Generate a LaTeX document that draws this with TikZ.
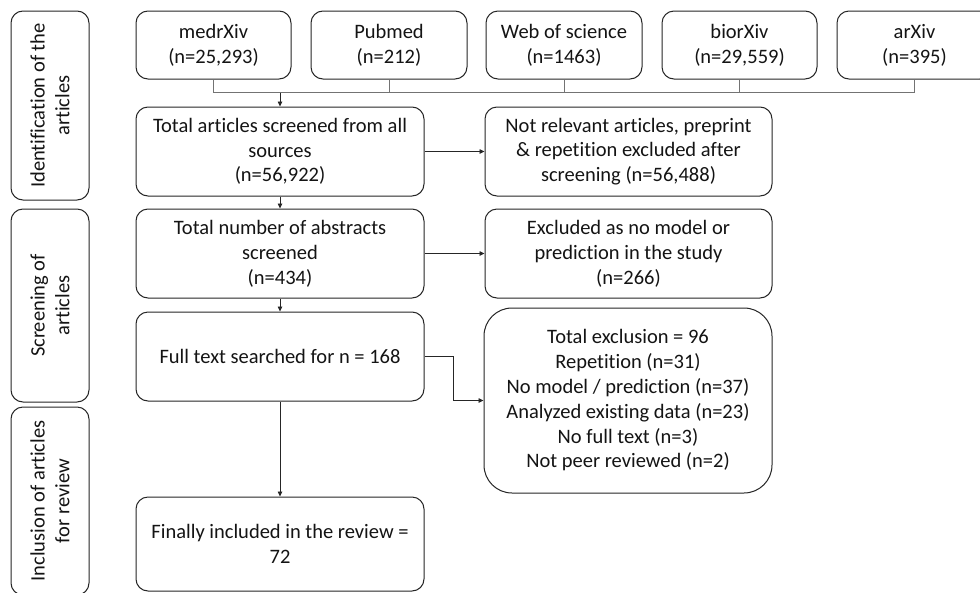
\documentclass[tikz,border=0pt]{standalone}
\usepackage{fontspec}
\setmainfont{Carlito}[Ligatures={NoCommon}]
\usetikzlibrary{arrows.meta}
\begin{document}
\begin{tikzpicture}[x=1pt,y=-1pt,
  box/.style={draw=black!85, line width=1pt, rounded corners=12pt, align=center,
    inner sep=2pt, font=\fontsize{20.5}{24.8}\selectfont, text=black!92},
  side/.style={box, rotate=90, minimum height=78pt},
  arr/.style={draw=black!85, line width=0.8pt, -{Triangle[length=5pt,width=4.5pt]}},
  bus/.style={draw=black!55, line width=0.9pt}]
\clip (0,0) rectangle (980,592);
\fill[white] (0,0) rectangle (980,592);
% side labels
\node[side, minimum width=189pt] (idL) at (50,105.5) {Identification of the\\articles};
\node[side, minimum width=193pt] (scrL) at (50,305.5) {Screening of\\articles};
\node[side, minimum width=188pt] (incL) at (50,501) {Inclusion of articles\\for review};
% sources
\node[box, minimum width=155pt, minimum height=68pt] (medrxiv) at (213.5,45) {medrXiv\\(n=25,293)};
\node[box, minimum width=156pt, minimum height=68pt] (pubmed) at (389,45) {Pubmed\\(n=212)};
\node[box, minimum width=156pt, minimum height=68pt] (wos) at (564,45) {Web of science\\(n=1463)};
\node[box, minimum width=155pt, minimum height=68pt] (biorxiv) at (739.5,45) {biorXiv\\(n=29,559)};
\node[box, minimum width=155pt, minimum height=68pt] (arxiv) at (914.5,45) {arXiv\\(n=395)};
% main column
\node[box, minimum width=288pt, minimum height=89pt] (total) at (280,151.5) {Total articles screened from all\\sources\\(n=56,922)};
\node[box, minimum width=288pt, minimum height=89pt] (abstracts) at (280,253.5) {Total number of abstracts\\screened\\(n=434)};
\node[box, minimum width=288pt, minimum height=89pt] (fulltext) at (280,356.5) {Full text searched for n = 168};
\node[box, minimum width=288pt, minimum height=94pt] (final) at (280,544) {Finally included in the review =\\72};
% right column
\node[box, minimum width=287pt, minimum height=89pt] (notrel) at (628.5,151.5) {Not relevant articles, preprint\\\& repetition excluded after\\screening (n=56,488)};
\node[box, minimum width=287pt, minimum height=89pt] (excluded) at (628.5,253.5) {Excluded as no model or\\prediction in the study\\(n=266)};
\node[box, rounded corners=28pt, minimum width=288pt, minimum height=185pt] (totexcl) at (628,400.5) {Total exclusion = 96\\Repetition (n=31)\\No model / prediction (n=37)\\Analyzed existing data (n=23)\\No full text (n=3)\\Not peer reviewed (n=2)};
% bus
\coordinate (busy) at (0,92.5);
\draw[bus] (medrxiv.south) -- (medrxiv.south |- busy) -- (arxiv.south |- busy) -- (arxiv.south);
\draw[bus] (pubmed.south) -- (pubmed.south |- busy);
\draw[bus] (wos.south) -- (wos.south |- busy);
\draw[bus] (biorxiv.south) -- (biorxiv.south |- busy);
\draw[arr] (total.north |- busy) -- (total.north);
% arrows
\draw[arr] (total.east) -- (notrel.west);
\draw[arr] (abstracts.east) -- (excluded.west);
\draw[arr] (total.south) -- (abstracts.north);
\draw[arr] (abstracts.south) -- (fulltext.north);
\draw[arr] (fulltext.south) -- (final.north);
\draw[arr] (fulltext.east) -- ++(29,0) |- (totexcl.west);
\end{tikzpicture}
\end{document}
